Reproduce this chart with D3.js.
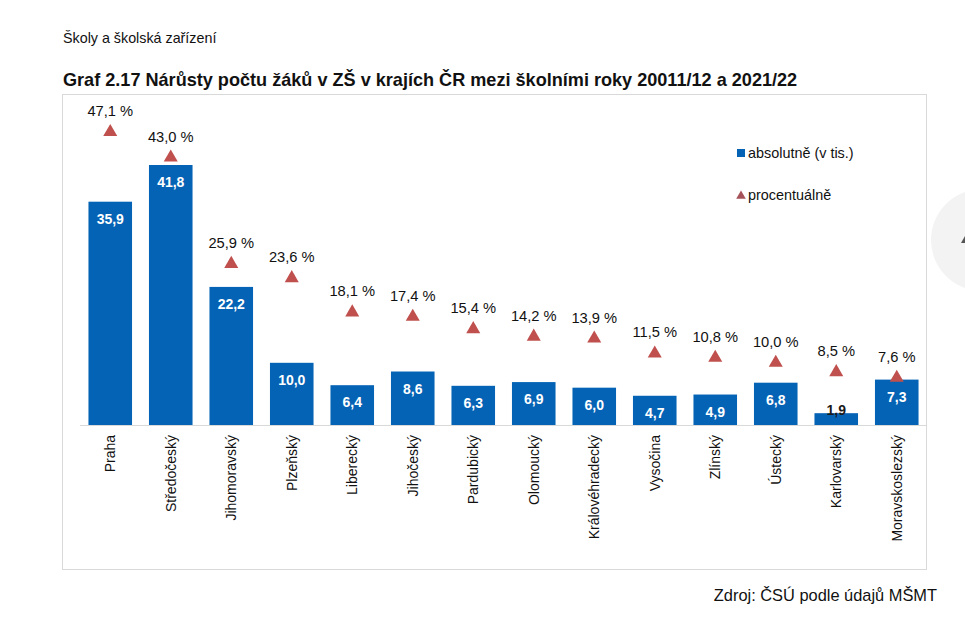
<!DOCTYPE html>
<html>
<head>
<meta charset="utf-8">
<script src="https://cdn.jsdelivr.net/npm/d3@7"></script>
<style>
  body { margin: 0; background: #fff; }
  text { font-family: "Liberation Sans", Arial, sans-serif; }
</style>
</head>
<body>
<div id="chart"></div>
<script>
// kraje a hodnoty
const regions = ["Praha", "Středočeský", "Jihomoravský", "Plzeňský", "Liberecký", "Jihočeský",
  "Pardubický", "Olomoucký", "Královéhradecký", "Vysočina", "Zlínský", "Ústecký", "Karlovarský", "Moravskoslezský"];
const absolute = [35.9, 41.8, 22.2, 10.0, 6.4, 8.6, 6.3, 6.9, 6.0, 4.7, 4.9, 6.8, 1.9, 7.3];
const percent = [47.1, 43.0, 25.9, 23.6, 18.1, 17.4, 15.4, 14.2, 13.9, 11.5, 10.8, 10.0, 8.5, 7.6];
const legendLabels = ["absolutně (v tis.)", "procentuálně"];

const W = 965, H = 640;
const fmt = v => v.toFixed(1).replace(".", ",");

const svg = d3.select("#chart").append("svg")
  .attr("width", W)
  .attr("height", H);

// hlavicka
svg.append("text")
  .attr("x", 63).attr("y", 43)
  .style("font-size", "14.3px").style("fill", "#111")
  .text("Školy a školská zařízení");

svg.append("text")
  .attr("x", 63).attr("y", 86)
  .style("font-size", "18.1px").style("font-weight", "bold").style("fill", "#111")
  .text("Graf 2.17 Nárůsty počtu žáků v ZŠ v krajích ČR mezi školními roky 20011/12 a 2021/22");

// ramecek grafu
svg.append("rect")
  .attr("x", 62.5).attr("y", 94.5)
  .attr("width", 864).attr("height", 475)
  .attr("fill", "none").attr("stroke", "#d9d9d9");

// seda kulicka vpravo (prvek stranky)
svg.append("circle")
  .attr("cx", 982).attr("cy", 240).attr("r", 51)
  .attr("fill", "#f3f3f3");
svg.append("path")
  .attr("d", "M961,243 L965,236 L965,243 Z")
  .attr("fill", "#555");

const x = d3.scaleBand()
  .domain(regions)
  .range([80, 927])
  .paddingInner(0.28)
  .paddingOuter(0.14);

const y = d3.scaleLinear()
  .domain([0, 50])
  .range([425, 114]);

// sloupce
svg.selectAll(".bar")
  .data(regions)
  .enter().append("rect")
    .attr("class", "bar")
    .attr("x", d => x(d))
    .attr("y", (d, i) => y(absolute[i]))
    .attr("width", x.bandwidth())
    .attr("height", (d, i) => y(0) - y(absolute[i]))
    .attr("fill", "#0563b5");

// osa x
svg.append("line")
  .attr("x1", 80).attr("x2", 927)
  .attr("y1", y(0) + 0.5).attr("y2", y(0) + 0.5)
  .attr("stroke", "#d9d9d9");

// hodnoty ve sloupcich
svg.selectAll(".barlab")
  .data(regions)
  .enter().append("text")
    .attr("class", "barlab")
    .attr("x", d => x(d) + x.bandwidth() / 2)
    .attr("y", (d, i) => {
      const h = y(0) - y(absolute[i]);
      return h < 20 ? y(absolute[i]) + 2 : y(absolute[i]) + 22;
    })
    .attr("text-anchor", "middle")
    .style("font-size", "14px").style("font-weight", "bold")
    .style("fill", (d, i) => (y(0) - y(absolute[i]) < 20) ? "#1a1a1a" : "#fff")
    .text((d, i) => fmt(absolute[i]));

// trojuhelniky
const tri = d3.symbol().type(d3.symbolTriangle).size(85);
svg.selectAll(".tri")
  .data(regions)
  .enter().append("path")
    .attr("class", "tri")
    .attr("d", tri)
    .attr("transform", (d, i) => `translate(${x(d) + x.bandwidth() / 2},${y(percent[i])})`)
    .attr("fill", "#c0504d");

svg.selectAll(".pctlab")
  .data(regions)
  .enter().append("text")
    .attr("class", "pctlab")
    .attr("x", d => x(d) + x.bandwidth() / 2)
    .attr("y", (d, i) => y(percent[i]) - 16)
    .attr("text-anchor", "middle")
    .style("font-size", "14.7px").style("fill", "#111")
    .text((d, i) => fmt(percent[i]) + " %");

// popisky kraju
svg.selectAll(".cat")
  .data(regions)
  .enter().append("text")
    .attr("class", "cat")
    .attr("transform", d => `translate(${x(d) + x.bandwidth() / 2},435) rotate(-90)`)
    .attr("dy", "0.35em")
    .attr("text-anchor", "end")
    .style("font-size", "14px").style("fill", "#111")
    .text(d => d);

// legenda
const lg = svg.append("g");
lg.append("rect")
  .attr("x", 737).attr("y", 149).attr("width", 8).attr("height", 8)
  .attr("fill", "#0563b5");
lg.append("text")
  .attr("x", 748).attr("y", 158)
  .style("font-size", "14.4px").style("fill", "#111")
  .text(legendLabels[0]);
lg.append("path")
  .attr("d", d3.symbol().type(d3.symbolTriangle).size(40))
  .attr("transform", "translate(741,196)")
  .attr("fill", "#a6525a");
lg.append("text")
  .attr("x", 748).attr("y", 200)
  .style("font-size", "14.4px").style("fill", "#111")
  .text(legendLabels[1]);

// zdroj
svg.append("text")
  .attr("x", 937).attr("y", 601)
  .attr("text-anchor", "end")
  .style("font-size", "16.4px").style("fill", "#111")
  .text("Zdroj: ČSÚ podle údajů MŠMT");
</script>
</body>
</html>
